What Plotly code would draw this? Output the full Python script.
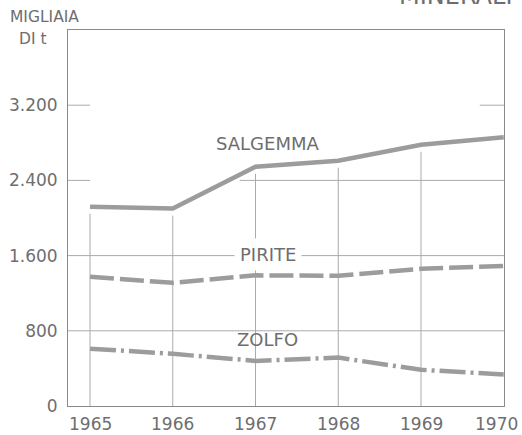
import plotly.graph_objects as go

# Production of Italian minerals, thousands of tonnes
years = [1965, 1966, 1967, 1968, 1969, 1970]
salgemma = [2120, 2100, 2545, 2610, 2780, 2860]
pirite = [1375, 1310, 1390, 1385, 1460, 1490]
zolfo = [610, 555, 480, 515, 385, 335]

year_labels = [str(y) for y in years]
y_ticks = [0, 800, 1600, 2400, 3200]
y_tick_text = ["0", "800", "1.600", "2.400", "3.200"]

LINE = "#9c9c9c"
GRID = "#ababab"
TEXT = "#6e6e6e"
FONT = "DejaVu Sans"

X0, X1 = 1964.734, 1970.003
Y0, Y1 = 0, 4000

fig = go.Figure()

fig.add_trace(go.Scatter(x=years, y=salgemma, mode="lines",
                         line=dict(color=LINE, width=4.5), hoverinfo="skip"))
fig.add_trace(go.Scatter(x=years, y=pirite, mode="lines",
                         line=dict(color=LINE, width=4.5, dash="24px,6px"),
                         hoverinfo="skip"))
fig.add_trace(go.Scatter(x=years, y=zolfo, mode="lines",
                         line=dict(color=LINE, width=4.5, dash="26px,5px,3px,5px"),
                         hoverinfo="skip"))

shapes = []
grid = dict(color=GRID, width=1)
# vertical guides, stopping just under the rock-salt line
for yr, top in zip(years[:-1], salgemma[:-1]):
    shapes.append(dict(type="line", xref="x", yref="y", x0=yr, x1=yr,
                       y0=0, y1=top - 75, line=grid, layer="below"))
# full horizontal guides
for v in (800, 1600):
    shapes.append(dict(type="line", xref="x", yref="y", x0=X0, x1=X1,
                       y0=v, y1=v, line=grid, layer="below"))
# partial guides at 2.400 and 3.200
shapes.append(dict(type="line", xref="x", yref="y", x0=X0, x1=1965,
                   y0=2400, y1=2400, line=grid, layer="below"))
shapes.append(dict(type="line", xref="x", yref="y", x0=1966.81, x1=X1,
                   y0=2400, y1=2400, line=grid, layer="below"))
shapes.append(dict(type="line", xref="x", yref="y", x0=X0, x1=1965,
                   y0=3200, y1=3200, line=grid, layer="below"))
shapes.append(dict(type="line", xref="x", yref="y", x0=1969.71, x1=X1,
                   y0=3200, y1=3200, line=grid, layer="below"))

label_font = dict(family=FONT, size=18, color=TEXT)
annotations = [
    dict(x=1967.15, y=2795, xref="x", yref="y", text="SALGEMMA",
         showarrow=False, font=label_font),
    dict(x=1967.15, y=1610, xref="x", yref="y", text="PIRITE",
         showarrow=False, font=label_font, bgcolor="white", borderpad=5),
    dict(x=1967.15, y=710, xref="x", yref="y", text="ZOLFO",
         showarrow=False, font=label_font),
]

# year labels under the axis; the last one is pulled inside the page
for i, (yr, txt) in enumerate(zip(years, year_labels)):
    last = i == len(years) - 1
    annotations.append(dict(
        x=yr, y=0, xref="x", yref="paper", text=txt, showarrow=False,
        xanchor="center", yanchor="top", yshift=-6, xshift=-7 if last else 0,
        font=dict(family=FONT, size=17, color=TEXT)))

W, H = 522, 435
ML, MR, MT, MB = 68, 18, 30, 29
pw, ph = W - ML - MR, H - MT - MB

# header texts, positioned in pixels and converted to paper coordinates
headers = [
    dict(px=8, py=17, text="MIGLIAIA", size=15.5, anchor="left"),
    dict(px=17, py=39, text="DI t", size=15.5, anchor="left"),
    dict(px=455, py=-4, text="MINERALI", size=24, anchor="center"),
]
for h in headers:
    annotations.append(dict(
        x=(h["px"] - ML) / pw, y=1 - (h["py"] - MT) / ph,
        xref="paper", yref="paper", text=h["text"], showarrow=False,
        xanchor=h["anchor"], yanchor="middle",
        font=dict(family=FONT, size=h["size"], color=TEXT)))

fig.update_layout(
    width=W, height=H,
    margin=dict(l=ML, r=MR, t=MT, b=MB, pad=0, autoexpand=False),
    paper_bgcolor="white", plot_bgcolor="white",
    showlegend=False,
    shapes=shapes,
    annotations=annotations,
    xaxis=dict(range=[X0, X1], showticklabels=False,
               showgrid=False, zeroline=False, showline=True, mirror=True,
               linecolor="#8a8a8a", linewidth=1, ticks="", automargin=False,
               fixedrange=True),
    yaxis=dict(range=[Y0, Y1], tickvals=y_ticks, ticktext=y_tick_text,
               showgrid=False, zeroline=False, showline=True, mirror=True,
               linecolor="#8a8a8a", linewidth=1, ticks="", automargin=False,
               tickfont=dict(family=FONT, size=17, color=TEXT),
               ticklabelstandoff=6, fixedrange=True),
)

fig.write_html("out.html")
